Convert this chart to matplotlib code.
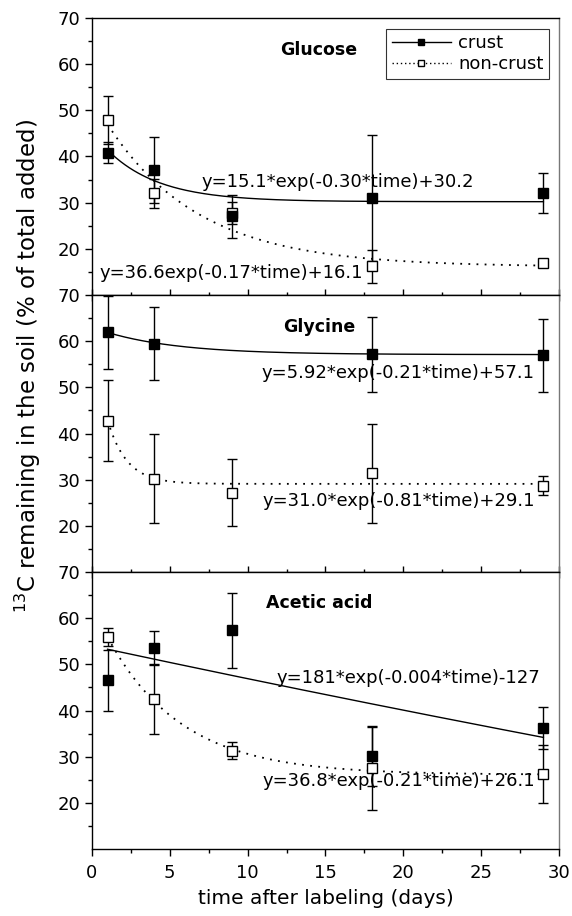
import numpy as np
import matplotlib
matplotlib.use("Agg")
import matplotlib.pyplot as plt
from matplotlib.ticker import MultipleLocator

plt.rcParams["font.family"] = ["DejaVu Sans"]

# Data
days = [1, 4, 9, 18, 29]
panels = ["Glucose", "Glycine", "Acetic acid"]

glucose_crust = [40.8, 37.1, 27.0, 31.0, 32.1]
glucose_crust_err = [2.3, 7.2, 4.6, 13.7, 4.3]
glucose_noncrust = [47.9, 32.0, 27.8, 16.2, 17.0]
glucose_noncrust_err = [5.3, 3.2, 2.4, 3.6, 0.8]

glycine_crust = [61.9, 59.5, np.nan, 57.2, 57.0]
glycine_crust_err = [8.0, 8.0, np.nan, 8.1, 7.9]
glycine_noncrust = [42.8, 30.2, 27.2, 31.4, 28.7]
glycine_noncrust_err = [8.7, 9.6, 7.2, 10.7, 2.1]

acetic_crust = [46.6, 53.5, 57.4, 30.2, 36.2]
acetic_crust_err = [6.6, 3.7, 8.1, 6.5, 4.6]
acetic_noncrust = [55.9, 42.5, 31.3, 27.5, 26.3]
acetic_noncrust_err = [1.9, 7.6, 1.8, 9.0, 6.3]

# fitted curves y = a*exp(-k*time)+c, parameters as printed on the chart
fit_a_crust = [15.1, 5.92, 181]
fit_k_crust = [0.30, 0.21, 0.004]
fit_c_crust = [30.2, 57.1, -127]
fit_a_noncrust = [36.6, 31.0, 36.8]
fit_k_noncrust = [0.17, 0.81, 0.21]
fit_c_noncrust = [16.1, 29.1, 26.1]

eq_crust = ["y=15.1*exp(-0.30*time)+30.2",
            "y=5.92*exp(-0.21*time)+57.1",
            "y=181*exp(-0.004*time)-127"]
eq_noncrust = ["y=36.6exp(-0.17*time)+16.1",
               "y=31.0*exp(-0.81*time)+29.1",
               "y=36.8*exp(-0.21*time)+26.1"]

crust = [glucose_crust, glycine_crust, acetic_crust]
crust_err = [glucose_crust_err, glycine_crust_err, acetic_crust_err]
noncrust = [glucose_noncrust, glycine_noncrust, acetic_noncrust]
noncrust_err = [glucose_noncrust_err, glycine_noncrust_err, acetic_noncrust_err]

# label positions (data coords) and alignment
eq_crust_pos = [(7.05, 34.5, "left"), (28.45, 53.1, "right"), (28.8, 47.1, "right")]
eq_noncrust_pos = [(0.5, 14.8, "left"), (28.45, 25.4, "right"), (28.45, 24.7, "right")]
title_pos = [(12.1, 63.1), (12.3, 63.1), (11.2, 63.4)]

fig = plt.figure(figsize=(5.72, 9.16), dpi=100)
left, width, height = 0.1608, 0.8164, 0.3024
bottoms = [0.678, 0.3755, 0.0731]

t_fit = np.linspace(1, 29, 200)

for i in range(3):
    ax = fig.add_axes([left, bottoms[i], width, height])
    ax.set_xlim(0, 30)
    ax.set_ylim(10, 70)

    ax.plot(t_fit, fit_a_crust[i] * np.exp(-fit_k_crust[i] * t_fit) + fit_c_crust[i],
            color="black", lw=1.0, zorder=2)
    ax.plot(t_fit, fit_a_noncrust[i] * np.exp(-fit_k_noncrust[i] * t_fit) + fit_c_noncrust[i],
            color="black", lw=1.3, linestyle=(0, (1, 3.5)), zorder=2)

    ax.errorbar(days, noncrust[i], yerr=noncrust_err[i], fmt="none", ecolor="black",
                elinewidth=1.0, capsize=3.6, capthick=1.0, zorder=3)
    ax.errorbar(days, crust[i], yerr=crust_err[i], fmt="none", ecolor="black",
                elinewidth=1.0, capsize=3.6, capthick=1.0, zorder=3)
    ax.plot(days, noncrust[i], "s", ms=6.5, mfc="white", mec="black", mew=1.0, zorder=4)
    ax.plot(days, crust[i], "s", ms=7, mfc="black", mec="black", zorder=5)

    if i == 0:
        h1, = ax.plot([], [], "-s", color="black", lw=1.0, ms=5, mfc="black")
        h2, = ax.plot([], [], linestyle=(0, (1, 2)), marker="s", color="black",
                      lw=1.0, ms=5, mfc="white")
        leg = ax.legend([h1, h2], ["crust", "non-crust"], loc="upper right",
                        fontsize=13, frameon=True, fancybox=False, edgecolor="black",
                        handlelength=3.3, borderaxespad=0.0, handletextpad=0.4,
                        borderpad=0.3, labelspacing=0.15, bbox_to_anchor=(0.979, 0.96))
        leg.get_frame().set_linewidth(0.8)

    tx, ty = title_pos[i]
    ax.text(tx, ty, panels[i], fontsize=12.5, fontweight="bold", ha="left", va="center")
    x, y, ha = eq_crust_pos[i]
    ax.text(x, y, eq_crust[i], fontsize=13, ha=ha, va="center")
    x, y, ha = eq_noncrust_pos[i]
    ax.text(x, y, eq_noncrust[i], fontsize=13, ha=ha, va="center")

    ax.set_yticks([20, 30, 40, 50, 60, 70])
    ax.set_yticks([15, 25, 35, 45, 55, 65], minor=True)
    ax.xaxis.set_major_locator(MultipleLocator(5))
    ax.xaxis.set_minor_locator(MultipleLocator(2.5))
    ax.tick_params(axis="y", which="major", direction="out", length=5, width=1,
                   labelsize=13, right=False)
    ax.tick_params(axis="y", which="minor", direction="out", length=3, width=1, right=False)
    if i < 2:
        ax.tick_params(axis="x", which="major", direction="inout", length=8, width=1,
                       labelbottom=False, top=False)
        ax.tick_params(axis="x", which="minor", direction="inout", length=4, width=1, top=False)
    else:
        ax.tick_params(axis="x", which="major", direction="out", length=5, width=1,
                       labelsize=13, top=False, pad=6)
        ax.tick_params(axis="x", which="minor", direction="out", length=3, width=1, top=False)
        ax.set_xlabel("time after labeling (days)", fontsize=14.5, labelpad=5)
    for s in ax.spines.values():
        s.set_linewidth(1.0)
    ax.spines["right"].set_color("#777777")

fig.text(0.049, 0.6, r"$^{13}$C remaining in the soil (% of total added)",
         rotation=90, fontsize=16.5, ha="center", va="center")

fig.savefig("out.png", dpi=100)
